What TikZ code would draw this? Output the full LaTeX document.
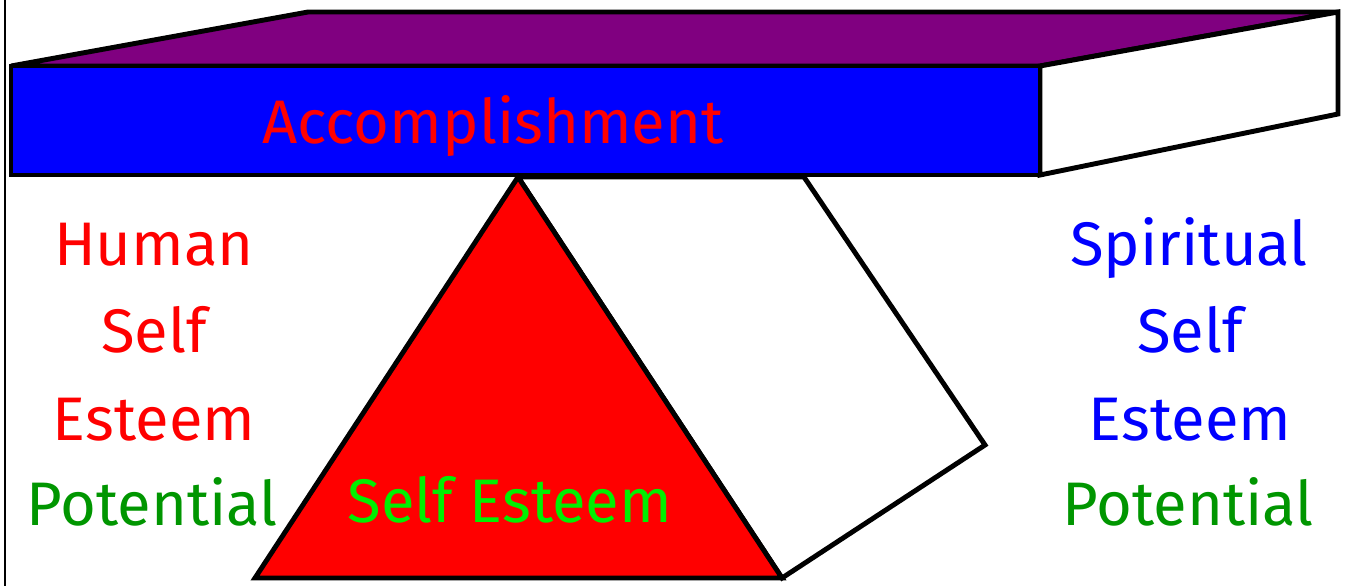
\documentclass[tikz,border=0pt]{standalone}
\usepackage{fontspec}
\setmainfont{Fira Sans}
\usepackage{xcolor}
\usetikzlibrary{positioning, calc}
\definecolor{myPurple}{RGB}{128,0,128}
\definecolor{myBlue}{RGB}{0,0,255}
\definecolor{myRed}{RGB}{255,0,0}
\definecolor{myGreen}{RGB}{0,150,0}
\definecolor{myLime}{RGB}{0,240,0}

\begin{document}
\begin{tikzpicture}[
  x=0.02cm, y=-0.02cm,
  face/.style={draw=black, line width=2.8pt, line join=miter},
  word/.style={font=\fontsize{35}{38}\selectfont, anchor=base, inner sep=0pt},
]
  \useasboundingbox (0,0) rectangle (1345,586);
  \draw[line width=1.1pt] (5,0) -- (5,586);

  % the slab
  \coordinate (ftl) at (11,66);
  \coordinate (ftr) at (1040,66);
  \coordinate (fbl) at (11,175);
  \coordinate (fbr) at (1040,175);
  \coordinate (btl) at (308,12);
  \coordinate (btr) at (1338,12);
  \coordinate (bbr) at (1338,114);
  \path[face, fill=myPurple] (ftl) -- (btl) -- (btr) -- (ftr) -- cycle;
  \path[face, fill=white] (ftr) -- (btr) -- (bbr) -- (fbr) -- cycle;
  \path[face, fill=myBlue] (ftl) rectangle (fbr);

  % the wedge
  \coordinate (apex) at (518,177);
  \coordinate (left) at (255,578);
  \coordinate (right) at (782,578);
  \coordinate (back) at (804,177);
  \coordinate (corner) at (985,445);
  \path[face, fill=white] (apex) -- (back) -- (corner) -- (right) -- cycle;
  \path[face, fill=myRed] (apex) -- (left) -- (right) -- cycle;

  \node[word, myRed] (accomp) at (493,143) {Accomplishment};
  \node[word, myLime] (wedge) at (510,522) {Self Esteem};

  \node[word, myRed] (human) at (154,265) {Human};
  \node[word, myRed] (humself) at (154,352) {Self};
  \node[word, myRed] (humesteem) at (154,440) {Esteem};
  \node[word, myGreen] (humpot) at (152,525) {Potential};

  \node[word, myBlue] (spirit) at (1189,265) {Spiritual};
  \node[word, myBlue] (spiself) at (1190,352) {Self};
  \node[word, myBlue] (spiesteem) at (1190,440) {Esteem};
  \node[word, myGreen] (spipot) at (1188,525) {Potential};
\end{tikzpicture}
\end{document}
